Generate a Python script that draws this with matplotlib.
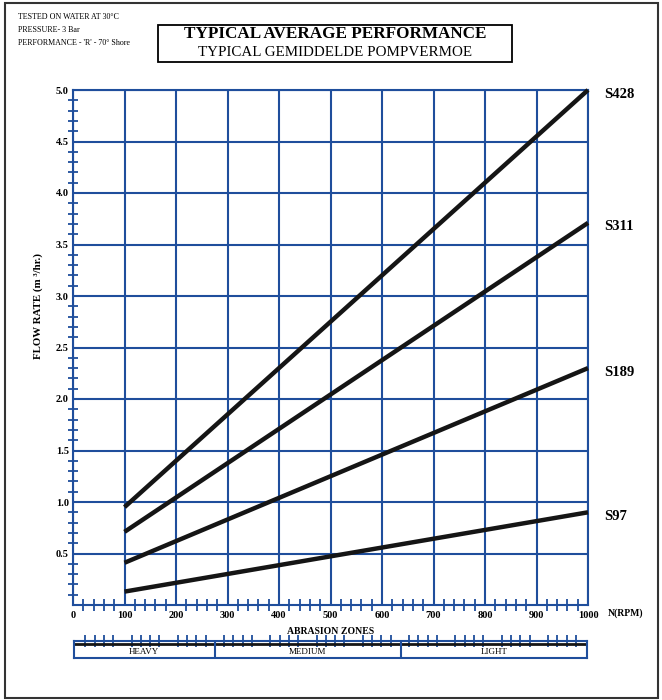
import matplotlib.pyplot as plt
from matplotlib.patches import Rectangle
from matplotlib.ticker import FixedLocator

plt.rcParams['font.family'] = ['Liberation Serif', 'DejaVu Serif']

# data
rpm = [100, 1000]
s428 = [0.95, 5.0]
s311 = [0.71, 3.71]
s189 = [0.41, 2.30]
s97 = [0.13, 0.90]
names = ['S428', 'S311', 'S189', 'S97']
x_ticks = [0, 100, 200, 300, 400, 500, 600, 700, 800, 900, 1000]
y_ticks = [0.5, 1.0, 1.5, 2.0, 2.5, 3.0, 3.5, 4.0, 4.5, 5.0]
zones = ['HEAVY', 'MEDIUM', 'LIGHT']
zone_edges = [0, 274, 637, 1000]

blue = '#1f4e9c'
W, H = 662, 700

fig = plt.figure(figsize=(W / 100, H / 100), dpi=100)

# outer frame and title box
fig.patches.append(Rectangle((5 / W, 1 - 698 / H), 653 / W, 695 / H, transform=fig.transFigure,
                             fill=False, edgecolor='#333333', lw=1.5))
fig.patches.append(Rectangle((158 / W, 1 - 62 / H), 354 / W, 37 / H, transform=fig.transFigure,
                             fill=False, edgecolor='black', lw=1.3))
fig.text(335 / W, 1 - 34.5 / H, 'TYPICAL AVERAGE PERFORMANCE', ha='center', va='center',
         fontsize=12.3, fontweight='bold')
fig.text(335 / W, 1 - 52 / H, 'TYPICAL GEMIDDELDE POMPVERMOE', ha='center', va='center',
         fontsize=10.8)

notes = ['TESTED ON WATER AT 30\u00b0C', 'PRESSURE- 3 Bar', "PERFORMANCE - 'R' - 70\u00b0 Shore"]
for i, t in enumerate(notes):
    fig.text(18 / W, 1 - (17 + 13 * i) / H, t, ha='left', va='center', fontsize=5.8)

# main chart
ax = fig.add_axes([73 / W, 1 - 605 / H, 515 / W, 515 / H])
ax.set_xlim(0, 1000)
ax.set_ylim(0, 5.0)
for s in ax.spines.values():
    s.set_color(blue)
    s.set_linewidth(1.5)

ax.set_xticks(x_ticks)
ax.set_yticks(y_ticks)
ax.set_xticklabels([str(v) for v in x_ticks], fontweight='bold')
ax.set_yticklabels(['%.1f' % v for v in y_ticks], fontweight='bold')
ax.xaxis.set_minor_locator(FixedLocator([v for v in range(20, 1000, 20) if v % 100]))
ax.yaxis.set_minor_locator(FixedLocator([i / 10 for i in range(1, 50) if i % 5]))
ax.grid(True, which='major', color=blue, lw=1.5)
ax.tick_params(which='major', length=0, labelsize=7.5)
ax.tick_params(axis='x', pad=4)
ax.tick_params(axis='y', pad=3)
ax.tick_params(which='minor', direction='inout', color=blue, width=1.3)
ax.tick_params(axis='x', which='minor', length=8)
ax.tick_params(axis='y', which='minor', length=7)

for name, vals in zip(names, [s428, s311, s189, s97]):
    ax.plot(rpm, vals, color='#151515', lw=3.2, solid_capstyle='butt', clip_on=False, zorder=3)
    ax.annotate(name, (1000, vals[1]), xytext=(16, -4), textcoords='offset pixels',
                ha='left', va='center', fontsize=10.5, fontweight='bold')

fig.text(38 / W, 1 - 306 / H, 'FLOW RATE (m \u00b3/hr.)', rotation=90, ha='center', va='center',
         fontsize=7.8, fontweight='bold')
fig.text(608 / W, 1 - 613 / H, 'N(RPM)', ha='left', va='center', fontsize=7, fontweight='bold')

# abrasion zones bar
bar = fig.add_axes([74 / W, 1 - 658 / H, 513 / W, 17 / H])
bar.set_xlim(0, 1000)
bar.set_ylim(0, 1)
for s in bar.spines.values():
    s.set_color(blue)
    s.set_linewidth(1.5)
bar.axhline(0.8, color='#151515', lw=2)
for e in zone_edges[1:-1]:
    bar.axvline(e, color=blue, lw=1.5)
for z, a, b in zip(zones, zone_edges[:-1], zone_edges[1:]):
    bar.text((a + b) / 2, 0.36, z, ha='center', va='center', fontsize=6.5)
bar.text(500, 1.55, 'ABRASION ZONES', ha='center', va='center', fontsize=7, fontweight='bold')
bar.xaxis.tick_top()
bar.set_xticks([22 + 90.2 * g + 18.04 * i for g in range(11) for i in range(4)])
bar.tick_params(axis='x', direction='inout', length=8, width=1.3, color=blue, labeltop=False)
bar.set_yticks([])

fig.savefig('out.png', dpi=100)
